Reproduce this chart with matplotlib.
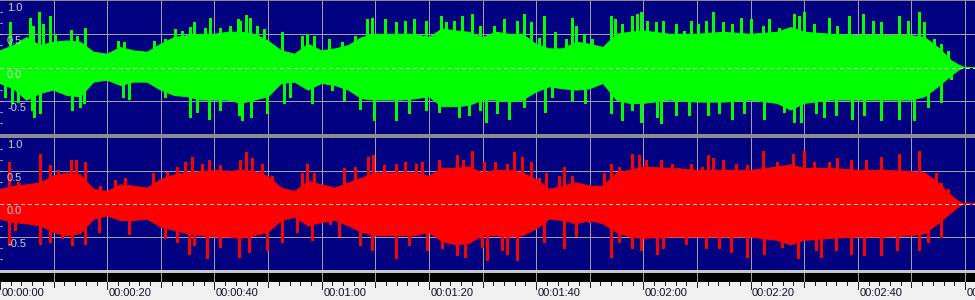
import matplotlib
matplotlib.use('Agg')
import matplotlib.pyplot as plt

plt.rcParams['font.family'] = ['Liberation Sans', 'DejaVu Sans']

# envelope of the solid part of each channel (seconds / amplitude)
body_t = [0, 2.5, 5, 7.5, 10, 12.5, 15, 17.5, 20, 22.5,
          25, 27.5, 30, 32.5, 35, 37.5, 40, 42.5, 45, 47.5,
          50, 52.5, 55, 57.5, 60, 62.5, 65, 67.5, 70, 72.5,
          75, 77.5, 80, 82.5, 85, 87.5, 90, 92.5, 95, 97.5,
          100, 102.5, 105, 107.5, 110, 112.5, 115, 117.5, 120, 125,
          130, 135, 140, 145, 147.5, 150, 155, 160, 165, 170,
          172.5, 175, 177.5, 179, 180, 182]

green_top = [0.25, 0.33, 0.45, 0.33, 0.38, 0.40, 0.38, 0.23, 0.20, 0.30,
             0.25, 0.23, 0.35, 0.45, 0.48, 0.50, 0.50, 0.53, 0.53, 0.50,
             0.40, 0.25, 0.20, 0.35, 0.25, 0.28, 0.33, 0.45, 0.50, 0.50,
             0.50, 0.50, 0.45, 0.58, 0.55, 0.53, 0.45, 0.53, 0.50, 0.50,
             0.35, 0.28, 0.28, 0.38, 0.35, 0.30, 0.50, 0.53, 0.55, 0.50,
             0.50, 0.53, 0.50, 0.53, 0.60, 0.53, 0.50, 0.48, 0.48, 0.48,
             0.45, 0.30, 0.10, 0.03, 0.0, 0.0]
green_bottom = [-0.24, -0.32, -0.49, -0.39, -0.34, -0.42, -0.44, -0.22, -0.19, -0.27,
                -0.22, -0.22, -0.34, -0.42, -0.44, -0.49, -0.49, -0.49, -0.54, -0.49,
                -0.44, -0.24, -0.22, -0.34, -0.24, -0.27, -0.34, -0.47, -0.49, -0.49,
                -0.49, -0.47, -0.44, -0.59, -0.59, -0.57, -0.49, -0.49, -0.52, -0.49,
                -0.37, -0.29, -0.32, -0.34, -0.32, -0.24, -0.49, -0.54, -0.54, -0.49,
                -0.52, -0.52, -0.49, -0.54, -0.64, -0.54, -0.49, -0.49, -0.49, -0.49,
                -0.44, -0.29, -0.12, -0.03, 0.0, 0.0]
red_top = [0.22, 0.27, 0.29, 0.32, 0.42, 0.47, 0.44, 0.22, 0.19, 0.29,
           0.27, 0.24, 0.37, 0.44, 0.47, 0.49, 0.51, 0.49, 0.51, 0.49,
           0.42, 0.24, 0.19, 0.34, 0.29, 0.24, 0.32, 0.39, 0.47, 0.47,
           0.47, 0.47, 0.42, 0.54, 0.54, 0.56, 0.47, 0.51, 0.51, 0.47,
           0.37, 0.22, 0.27, 0.32, 0.27, 0.27, 0.47, 0.51, 0.56, 0.54,
           0.51, 0.51, 0.51, 0.56, 0.59, 0.54, 0.54, 0.51, 0.51, 0.49,
           0.47, 0.32, 0.12, 0.03, 0.0, 0.0]
red_bottom = [-0.23, -0.28, -0.30, -0.33, -0.43, -0.48, -0.45, -0.23, -0.18, -0.25,
              -0.25, -0.23, -0.35, -0.40, -0.45, -0.48, -0.50, -0.50, -0.52, -0.48,
              -0.43, -0.25, -0.20, -0.33, -0.28, -0.25, -0.33, -0.43, -0.48, -0.48,
              -0.48, -0.48, -0.43, -0.57, -0.62, -0.60, -0.48, -0.48, -0.50, -0.48,
              -0.38, -0.23, -0.25, -0.30, -0.25, -0.30, -0.43, -0.50, -0.52, -0.50,
              -0.50, -0.50, -0.50, -0.55, -0.62, -0.55, -0.52, -0.50, -0.50, -0.48,
              -0.45, -0.30, -0.13, -0.03, 0.0, 0.0]

# single peaks sticking out of the body
g_up_t = [1.9, 5.6, 6.2, 7.3, 8.1, 9.3, 10.3, 13.2, 14.4, 15.9, 22.1, 23.1, 28.7, 30.8, 32.7, 33.9,
          35.5, 36.2, 38.3, 39.1, 41.1, 42.9, 44.3, 44.8, 45.9, 46.7, 47.9, 49.2, 52.6, 56.3, 57.3, 58.5,
          61.3, 63.7, 66.3, 68.5, 69.4, 71.8, 73.8, 75.6, 77.2, 79.4, 82.3, 83.1, 84.6, 86.1, 88.1, 89.6,
          92.1, 94.0, 96.5, 97.7, 99.0, 100.5, 101.5, 103.6, 105.5, 106.7, 107.5, 108.9, 110.5, 113.9,
          114.8, 116.1, 117.9, 118.9, 119.5, 120.7,
          122.3, 123.6, 126.0, 127.6, 128.8, 130.1, 131.6, 132.9, 134.8, 136.6, 138.2, 140.1, 142.4, 143.5,
          145.3, 148.1, 149.1, 150.0, 151.9, 154.7, 156.2, 158.4, 160.9, 162.8, 164.3, 167.7, 169.3, 171.5,
          172.4, 174.3, 175.5, 176.8]
g_up_v = [0.68, 0.75, 0.63, 0.83, 0.65, 0.78, 0.50, 0.56, 0.48, 0.60, 0.40, 0.39, 0.40, 0.43, 0.58, 0.55,
          0.61, 0.68, 0.60, 0.75, 0.60, 0.63, 0.73, 0.70, 0.79, 0.75, 0.63, 0.58, 0.53, 0.48, 0.50, 0.48,
          0.43, 0.38, 0.48, 0.73, 0.75, 0.73, 0.68, 0.70, 0.73, 0.70, 0.78, 0.68, 0.70, 0.78, 0.81, 0.63,
          0.63, 0.73, 0.70, 0.80, 0.68, 0.45, 0.78, 0.53, 0.43, 0.75, 0.63, 0.50, 0.43, 0.78,
          0.73, 0.65, 0.78, 0.80, 0.83, 0.70,
          0.68, 0.70, 0.65, 0.55, 0.70, 0.65, 0.70, 0.83, 0.68, 0.65, 0.75, 0.73, 0.63, 0.73,
          0.60, 0.80, 0.78, 0.83, 0.65, 0.75, 0.63, 0.78, 0.80, 0.70, 0.68, 0.78, 0.70, 0.83,
          0.68, 0.43, 0.35, 0.25]
g_dn_t = [0.9, 2.2, 3.4, 5.9, 6.4, 7.5, 13.4, 14.9, 15.6, 23.0, 24.0, 30.8, 35.5, 36.7, 38.9, 41.1,
          44.5, 45.1, 46.8, 49.8, 52.9, 54.1, 58.2,
          61.9, 64.1, 67.2, 69.7, 73.8, 76.2, 79.4, 81.9, 85.6, 87.5, 89.6, 90.6, 92.7, 94.9, 97.7,
          101.6, 103.0, 106.7, 109.2, 113.9, 116.1, 117.9, 119.5,
          122.6, 123.2, 126.0, 128.5, 132.0, 134.1, 136.6, 138.8, 142.5, 146.3, 148.1, 149.4, 152.2,
          153.7, 155.9, 159.0, 161.2, 164.3, 167.7, 170.5, 173.0, 175.5, 177.4]
g_dn_v = [-0.44, -0.54, -0.52, -0.64, -0.74, -0.69, -0.64, -0.59, -0.54, -0.44, -0.47, -0.44, -0.74, -0.67, -0.77, -0.64,
          -0.72, -0.79, -0.74, -0.69, -0.54, -0.44, -0.54,
          -0.34, -0.49, -0.62, -0.79, -0.79, -0.69, -0.64, -0.67, -0.74, -0.72, -0.64, -0.82, -0.69, -0.77, -0.59,
          -0.67, -0.44, -0.49, -0.54, -0.69, -0.79, -0.64, -0.82,
          -0.74, -0.84, -0.72, -0.72, -0.72, -0.69, -0.77, -0.69, -0.77, -0.67, -0.82, -0.82, -0.69,
          -0.74, -0.72, -0.77, -0.72, -0.79, -0.77, -0.79, -0.59, -0.52, -0.17]

r_up_t = [1.6, 3.4, 7.5, 9.3, 10.9, 13.2, 14.2, 15.9, 18.7, 21.5, 23.3, 28.6, 31.1, 33.0, 34.5, 35.8,
          37.6, 38.9, 41.1, 44.8, 45.9, 47.0, 48.8, 50.7, 56.3, 57.3, 58.5,
          61.3, 64.1, 66.3, 68.7, 69.5, 71.6, 73.8, 75.6, 77.5, 78.7, 81.8, 85.3, 86.3, 88.1, 90.2, 92.4,
          94.6, 95.9, 97.4, 99.0, 100.5, 101.8, 104.2, 105.2, 106.7, 107.7, 109.9, 112.7, 113.9, 115.5,
          117.8, 119.2, 120.4,
          121.7, 123.2, 125.4, 126.7, 128.8, 131.0, 132.0, 132.9, 134.8, 137.2, 139.4, 142.4, 145.0,
          148.0, 150.0, 151.9, 154.7, 156.2, 158.7, 161.5, 164.3, 167.7, 171.5, 174.6, 175.5, 176.8]
r_up_v = [0.64, 0.34, 0.76, 0.59, 0.51, 0.66, 0.66, 0.64, 0.27, 0.37, 0.39, 0.47, 0.49, 0.56, 0.64, 0.71,
          0.61, 0.66, 0.59, 0.66, 0.79, 0.69, 0.61, 0.42, 0.47, 0.61, 0.47,
          0.27, 0.54, 0.56, 0.71, 0.74, 0.59, 0.61, 0.64, 0.61, 0.64, 0.66, 0.74, 0.66, 0.81, 0.64, 0.64,
          0.61, 0.79, 0.71, 0.64, 0.39, 0.47, 0.42, 0.56, 0.42, 0.32, 0.29, 0.47, 0.61, 0.56,
          0.76, 0.74, 0.66,
          0.54, 0.66, 0.61, 0.54, 0.61, 0.56, 0.74, 0.69, 0.66, 0.61, 0.59, 0.81, 0.64,
          0.76, 0.81, 0.64, 0.64, 0.69, 0.66, 0.66, 0.71, 0.76, 0.81, 0.47, 0.32, 0.22]
r_dn_t = [1.6, 2.8, 7.5, 9.3, 11.5, 13.4, 15.9, 18.4, 24.0, 30.8, 33.0, 35.3, 36.1, 38.7, 41.1, 44.5,
          46.4, 49.8, 52.6, 55.4, 58.2,
          61.6, 63.2, 67.2, 69.4, 73.8, 76.2, 79.7, 82.5, 85.3, 86.8, 89.9, 90.9, 93.7, 94.6, 96.5,
          101.4, 105.2, 107.4, 109.9, 113.9, 115.5, 117.8, 119.5,
          122.6, 123.6, 127.9, 131.6, 134.1, 136.3, 139.4, 142.5, 145.9, 148.8, 152.2, 153.1, 155.9,
          158.7, 161.2, 164.3, 167.4, 171.5, 173.0, 175.5]
r_dn_v = [-0.62, -0.40, -0.60, -0.57, -0.52, -0.62, -0.60, -0.43, -0.45, -0.52, -0.57, -0.75, -0.62, -0.82, -0.65, -0.80,
          -0.72, -0.70, -0.57, -0.43, -0.55,
          -0.30, -0.48, -0.62, -0.70, -0.82, -0.62, -0.70, -0.67, -0.77, -0.80, -0.65, -0.85, -0.70, -0.75, -0.85,
          -0.57, -0.67, -0.48, -0.28, -0.80, -0.57, -0.67, -0.70,
          -0.75, -0.67, -0.60, -0.67, -0.67, -0.72, -0.80, -0.75, -0.65, -0.82, -0.70, -0.80, -0.70,
          -0.75, -0.77, -0.77, -0.70, -0.70, -0.57, -0.50]

amp_labels = ['1.0', '0.5', '0.0', '-0.5']
amp_values = [1.0, 0.5, 0.0, -0.5]
time_ticks = [0, 20, 40, 60, 80, 100, 120, 140, 160, 180]
time_labels = ['00:00:00', '00:00:20', '00:00:40', '00:01:00', '00:01:20',
               '00:01:40', '00:02:00', '00:02:20', '00:02:40', '00:03:00']

W, H = 975, 300
XMAX = W / 5.3614          # pixels per second read from the ruler
GRID = '#a0a0a0'
PX = 0.72                  # one pixel in points

fig = plt.figure(figsize=(W / 100, H / 100), dpi=100, facecolor='#8c8c8c')


def px_axes(y_top, y_bot):
    return fig.add_axes([0, 1 - y_bot / H, 1, (y_bot - y_top) / H])


def draw_channel(ax, top, bottom, up_t, up_v, dn_t, dn_v, color):
    ax.set_facecolor('#000080')
    ax.set_xlim(0, XMAX)
    ax.set_ylim(-1, 1)
    for s in ax.spines.values():
        s.set_visible(False)
    for t in range(10, 190, 10):
        ax.axvline(t, color=GRID, lw=PX, antialiased=False, zorder=1)
    ax.axhline(0.5, color=GRID, lw=PX, antialiased=False, zorder=1)
    ax.axhline(-0.5, color=GRID, lw=PX, antialiased=False, zorder=1)
    ax.fill_between(body_t, bottom, top, facecolor=color, edgecolor=color, lw=PX, zorder=2)
    ax.vlines(up_t, 0, up_v, color=color, lw=1.4 * PX, antialiased=False, zorder=2)
    ax.vlines(dn_t, dn_v, 0, color=color, lw=1.4 * PX, antialiased=False, zorder=2)
    ax.axhline(0, color='#d8d8d8', lw=PX, dashes=(3, 3), antialiased=False, zorder=3)
    # little ticks on the left edge
    ax.set_xticks([])
    ax.set_yticks([-5/6, -4/6, -3/6, -2/6, -1/6, 0, 1/6, 2/6, 3/6, 4/6, 5/6])
    ax.tick_params(axis='y', direction='in', length=1.5, width=0.8, color='#c8c8c8',
                   labelleft=False, pad=0)
    for lab, v in zip(amp_labels, amp_values):
        ax.annotate(lab, xy=(0, v), xycoords=('axes fraction', 'data'),
                    xytext=(7 if v >= 0 else 8, -2), textcoords='offset pixels',
                    ha='left', va='top', fontsize=8, color='#d0d0d0', zorder=4)


ax1 = px_axes(1, 134)
draw_channel(ax1, green_top, green_bottom, g_up_t, g_up_v, g_dn_t, g_dn_v, '#00ff00')

ax2 = px_axes(138, 270)
draw_channel(ax2, red_top, red_bottom, r_up_t, r_up_v, r_dn_t, r_dn_v, '#ff0000')

# light strip + black band under the waveform
ax_l = px_axes(270, 273)
ax_l.axis('off')
ax_l.add_patch(plt.Rectangle((0, 0), 1, 1, transform=ax_l.transAxes, color='#c8c8c8'))

ax_b = px_axes(273, 282)
ax_b.set_facecolor('black')
ax_b.set_xlim(0, XMAX)
ax_b.set_xticks([])
ax_b.set_yticks([])
for s in ax_b.spines.values():
    s.set_visible(False)
for t in range(10, 190, 10):
    ax_b.axvline(t, color=GRID, lw=PX, antialiased=False)

# time ruler
ax_r = px_axes(282, 300)
ax_r.set_facecolor('#f0f0f0')
ax_r.set_xlim(0, XMAX)
ax_r.set_ylim(18, 0)
ax_r.set_xticks([])
ax_r.set_yticks([])
for s in ax_r.spines.values():
    s.set_visible(False)
ax_r.vlines(range(0, 184, 2), 0, 2.5, color='#202020', lw=PX, antialiased=False)
ax_r.vlines(range(0, 190, 10), 0, 5, color='#202020', lw=PX, antialiased=False)
ax_r.vlines(time_ticks, 0, 6.5, color='#202020', lw=PX, antialiased=False)
for t, lab in zip(time_ticks, time_labels):
    ax_r.annotate(lab, xy=(t, 6), xycoords='data', xytext=(1.5, 0), textcoords='offset pixels',
                  ha='left', va='top', fontsize=8, color='#101028', annotation_clip=False, clip_on=True)

fig.savefig('out.png', dpi=100, facecolor=fig.get_facecolor())
